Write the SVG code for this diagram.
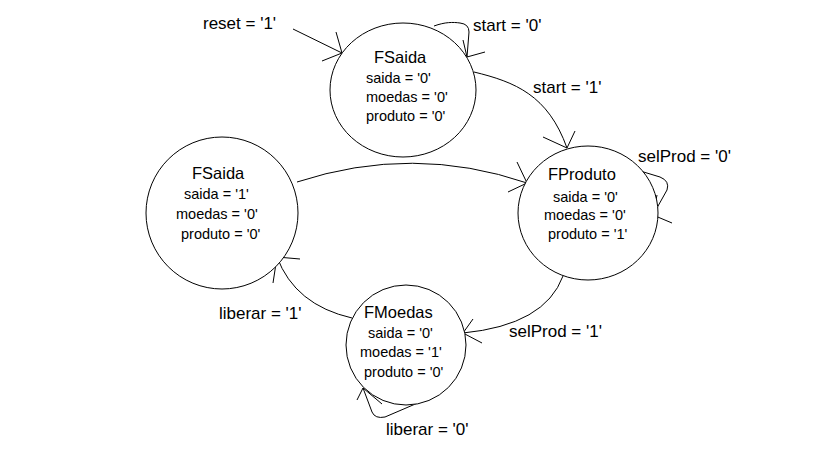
<svg xmlns="http://www.w3.org/2000/svg" width="819" height="460" viewBox="0 0 819 460">
<style>
.st{fill:#fff;stroke:#000;stroke-width:1}
.c{fill:none;stroke:#000;stroke-width:1}
text{font-family:"Liberation Sans",Arial,sans-serif;fill:#000}
.t{font-size:16.5px}
.s{font-size:14.5px}
.l{font-size:17px}
</style>
<rect width="819" height="460" fill="#fff"/>
<g id="connectors">
<path class="c" d="M293,29 L342,53"/>
<path class="c" d="M336,32 L342,53 L322,61"/>
<path class="c" d="M434,26 C445,22 453,22 460,23 Q469,24 469,32 L467,57"/>
<path class="c" d="M463,40 L467,57 L485,52"/>
<path class="c" d="M474,72 C515,82 548,95 567,148"/>
<path class="c" d="M543,137 L567,148 L575,131"/>
<path class="c" d="M297,182 Q413,144 527,183"/>
<path class="c" d="M517,162 L527,183 L508,192"/>
<path class="c" d="M637,170 L660,177 Q670,181 667,190 L653,215"/>
<path class="c" d="M657,195 L653,215 L672,223"/>
<path class="c" d="M563,276 Q545,325 463,333"/>
<path class="c" d="M473,319 L463,333 L482,343"/>
<path class="c" d="M352,318 Q295,305 277,257"/>
<path class="c" d="M300,259 L277,257 L273,283"/>
<path class="c" d="M420,402 L385,417 Q375,419 372,412 L363,388"/>
<path class="c" d="M357,400 L363,388 L382,404"/>
<text class="l" x="203" y="29">reset = '1'</text>
<text class="l" x="473" y="31">start = '0'</text>
<text class="l" x="533" y="93">start = '1'</text>
<text class="l" x="638" y="162">selProd = '0'</text>
<text class="l" x="509" y="337">selProd = '1'</text>
<text class="l" x="219" y="319">liberar = '1'</text>
<text class="l" x="386" y="435">liberar = '0'</text>
</g>
<g id="FSaida0">
<ellipse class="st" cx="403" cy="90" rx="73" ry="67"/>
<text class="t" x="374" y="63">FSaida</text>
<text class="s" x="366" y="83">saida = '0'</text>
<text class="s" x="366" y="102">moedas = '0'</text>
<text class="s" x="366" y="121">produto = '0'</text>
</g>
<g id="FSaida1">
<ellipse class="st" cx="222" cy="213" rx="76" ry="76"/>
<text class="t" x="192" y="179">FSaida</text>
<text class="s" x="184" y="199">saida = '1'</text>
<text class="s" x="176" y="219">moedas = '0'</text>
<text class="s" x="181" y="239">produto = '0'</text>
</g>
<g id="FProduto">
<ellipse class="st" cx="588" cy="213" rx="70" ry="67"/>
<text class="t" x="548" y="180">FProduto</text>
<text class="s" x="553" y="202">saida = '0'</text>
<text class="s" x="544" y="220">moedas = '0'</text>
<text class="s" x="548" y="239">produto = '1'</text>
</g>
<g id="FMoedas">
<ellipse class="st" cx="406" cy="345" rx="60" ry="60"/>
<text class="t" x="364" y="318">FMoedas</text>
<text class="s" x="368" y="338">saida = '0'</text>
<text class="s" x="360" y="357">moedas = '1'</text>
<text class="s" x="364" y="377">produto = '0'</text>
</g>
</svg>
